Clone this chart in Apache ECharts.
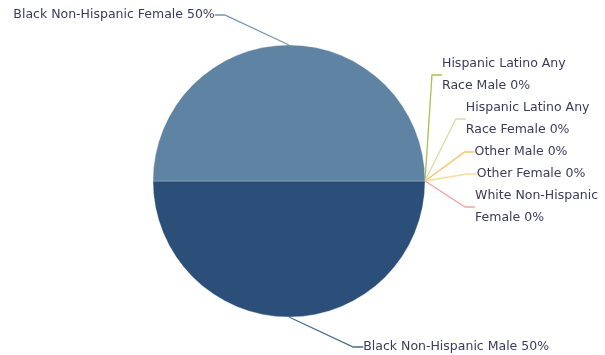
<!DOCTYPE html>
<html>
<head>
<meta charset="utf-8">
<script src="https://cdn.jsdelivr.net/npm/echarts@6/dist/echarts.min.js"></script>
<style>
  html, body { margin: 0; padding: 0; background: #ffffff; }
  #chart { width: 605px; height: 355px; }
</style>
</head>
<body>
<div id="chart"></div>
<script>
// Population share by race / ethnicity and sex
const categories = [
  'Black Non-Hispanic Male',
  'Black Non-Hispanic Female',
  'Hispanic Latino Any Race Male',
  'Hispanic Latino Any Race Female',
  'Other Male',
  'Other Female',
  'White Non-Hispanic Female'
];
const shares = [50, 50, 0, 0, 0, 0, 0];
const sliceColors = ['#2b4f79', '#5e83a3', '#a8c24c', '#d3e29c', '#f6c35e', '#f8dc9a', '#f6a2a0'];
const wrapWidths = [0, 0, 130, 130, 0, 0, 130];

// Pie geometry and label layout settings
const CX = 289, CY = 181, R = 136;
const LABEL_DIST_Y = 30;      // radial distance used for the label's natural height
const LABEL_RADIUS_X = 178;   // radius of the curve that label connectors bend on
const ELBOW = 10;             // horizontal connector segment
const TEXT_GAP = 0;
const LINE_H = 22;
const CLUSTER_LIFT = -40;     // stacked labels sit a little above their common anchor
const FONT_SIZE = 12.5;
const FONT_FAMILY = 'DejaVu Sans';

const measureCtx = document.createElement('canvas').getContext('2d');
measureCtx.font = FONT_SIZE + 'px "' + FONT_FAMILY + '"';

function wrapLines(text, maxW) {
  if (!maxW) return [text];
  const words = text.split(' ');
  const lines = [];
  let cur = '';
  words.forEach(w => {
    const test = cur ? cur + ' ' + w : w;
    if (cur && measureCtx.measureText(test).width > maxW) {
      lines.push(cur);
      cur = w;
    } else {
      cur = test;
    }
  });
  if (cur) lines.push(cur);
  return lines;
}

// Work out where every label and connector goes
function computeLabelLayout() {
  const total = shares.reduce((a, b) => a + b, 0);
  let acc = 0;
  const items = categories.map((name, i) => {
    const v = shares[i];
    const theta = (acc + v / 2) / total * Math.PI * 2; // clockwise from 3 o'clock
    acc += v;
    const c = Math.cos(theta), s = Math.sin(theta);
    const left = c < -1e-9 || (Math.abs(c) <= 1e-9 && s < 0);
    const lines = wrapLines(name + ' ' + v + '%', wrapWidths[i]);
    return {
      index: i,
      text: lines.join('\n'),
      h: lines.length * LINE_H,
      left: left,
      sx: CX + R * c,
      sy: CY + R * s,
      target: CY + (R + LABEL_DIST_Y) * s
    };
  });

  [true, false].forEach(side => {
    const group = items.filter(it => it.left === side).sort((a, b) => a.target - b.target || a.index - b.index);
    // start with one cluster per label, then merge overlapping clusters
    let clusters = group.map(it => ({ members: [it], size: it.h, targets: [it.target] }));
    const place = cl => {
      const mean = cl.targets.reduce((a, b) => a + b, 0) / cl.targets.length;
      cl.top = mean - cl.size / 2 + (cl.members.length > 1 ? CLUSTER_LIFT : 0);
    };
    clusters.forEach(place);
    let merged = true;
    while (merged) {
      merged = false;
      for (let k = 0; k < clusters.length - 1; k++) {
        const a = clusters[k], b = clusters[k + 1];
        if (a.top + a.size > b.top) {
          a.members = a.members.concat(b.members);
          a.targets = a.targets.concat(b.targets);
          a.size += b.size;
          place(a);
          clusters.splice(k + 1, 1);
          merged = true;
          break;
        }
      }
    }
    clusters.forEach(cl => {
      let y = cl.top;
      cl.members.forEach(it => {
        it.y = y + it.h / 2;
        y += it.h;
      });
    });
  });

  items.forEach(it => {
    const dy = Math.max(-LABEL_RADIUS_X, Math.min(LABEL_RADIUS_X, it.y - CY));
    const dx = Math.sqrt(LABEL_RADIUS_X * LABEL_RADIUS_X - dy * dy);
    const dir = it.left ? -1 : 1;
    it.bx = CX + dir * dx;
    it.ex = it.bx + dir * ELBOW;
    it.tx = it.ex + dir * TEXT_GAP;
  });
  return items;
}

const layout = computeLabelLayout();

const chart = echarts.init(document.getElementById('chart'));

const data = categories.map((name, i) => ({
  name: name,
  value: shares[i],
  itemStyle: shares[i] > 0
    ? { color: sliceColors[i], borderColor: 'rgba(255,255,255,0.25)', borderWidth: 1 }
    : { color: sliceColors[i], borderWidth: 0 },
  labelLine: { lineStyle: { color: sliceColors[i], opacity: i < 2 ? 0.85 : 1 } }
}));

chart.setOption({
  animation: false,
  series: [{
    type: 'pie',
    center: [CX, CY],
    radius: R,
    startAngle: 0,
    clockwise: true,
    minAngle: 0,
    stillShowZeroSum: true,
    avoidLabelOverlap: false,
    data: data,
    label: {
      show: true,
      formatter: p => layout[p.dataIndex].text,
      fontFamily: FONT_FAMILY,
      fontSize: FONT_SIZE,
      lineHeight: LINE_H,
      color: '#3b3a5a'
    },
    labelLine: {
      show: true,
      length: 20,
      length2: 8,
      lineStyle: { width: 1.3 }
    },
    labelLayout: p => {
      const L = layout[p.dataIndex];
      return {
        x: L.tx,
        y: L.y,
        align: L.left ? 'right' : 'left',
        verticalAlign: 'middle',
        labelLinePoints: [[L.sx, L.sy], [L.bx, L.y], [L.ex, L.y]]
      };
    },
    emphasis: { disabled: true }
  }]
});
</script>
</body>
</html>
